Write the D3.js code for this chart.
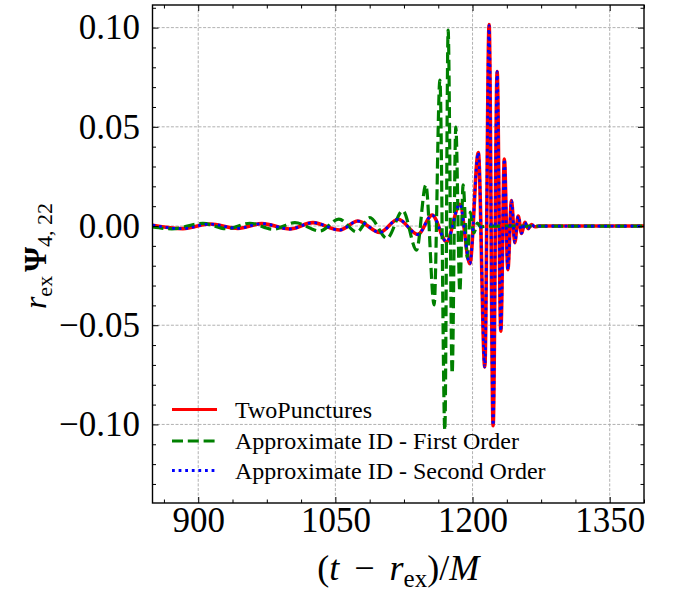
<!DOCTYPE html>
<html>
<head>
<meta charset="utf-8">
<script src="https://cdn.jsdelivr.net/npm/d3@7"></script>
<style>
  body { margin: 0; background: #fff; }
  text { font-family: "Liberation Serif", "Times New Roman", serif; fill: #000; }
</style>
</head>
<body>
<div id="chart"></div>
<script>
// Waveform extrema: time (t - r_ex)/M and r_ex Psi_4,22
const tRed = [850, 883.3, 912.8, 943.4, 969.6, 1000.3, 1025.4, 1054.9, 1074.6, 1098.6, 1118.7, 1140.2,
  1155.8, 1171.6, 1186.1, 1197.0, 1206.3, 1213.4, 1218.1, 1222.5, 1226.9, 1230.9, 1234.8, 1238.6,
  1242.6, 1246.2, 1249.9, 1253.6, 1257.2, 1260.8, 1264.5, 1268.1, 1273.6, 1387.5];
const vRed = [0.0004, -0.0013, 0.0010, -0.0012, 0.0012, -0.0015, 0.0017, -0.0020, 0.0025, -0.0032, 0.0034, -0.0042,
  0.0055, -0.0079, 0.0110, -0.0190, 0.0370, -0.0710, 0.1015, -0.1007, 0.0778, -0.0530, 0.0338, -0.0220,
  0.0128, -0.0084, 0.0050, -0.0037, 0.0019, -0.0013, 0.0008, -0.0004, 0, 0];

const tGreen = [850, 871.2, 905.1, 931.4, 956.5, 981.7, 1005.7, 1033.1, 1053.8, 1073.5, 1087.7, 1106.3,
  1123.8, 1138.8, 1148.9, 1158.0, 1164.3, 1169.7, 1173.3, 1177.7, 1181.7, 1186.1, 1189.7, 1194.3,
  1197.6, 1201.4, 1205.3, 1209.1, 1214.5, 1387.5];
const vGreen = [-0.0005, -0.0014, 0.0013, -0.0014, 0.0014, -0.0016, 0.0017, -0.0025, 0.0035, -0.0030, 0.0042, -0.0062,
  0.0077, -0.0121, 0.0207, -0.0398, 0.0736, -0.1029, 0.0988, -0.0743, 0.0498, -0.0330, 0.0207, -0.0160,
  0.0070, -0.0035, 0.0015, -0.0006, 0, 0];

const tBlue = [850, 883.3, 912.8, 943.4, 969.6, 1000.3, 1025.4, 1054.9, 1074.6, 1098.6, 1118.7, 1140.2,
  1155.8, 1171.6, 1186.1, 1197.0, 1206.3, 1213.4, 1218.1, 1222.5, 1226.9, 1230.9, 1234.8, 1238.6,
  1242.6, 1246.2, 1249.9, 1253.6, 1257.2, 1260.8, 1264.5, 1268.1, 1273.6, 1387.5];
const vBlue = [0.0004, -0.0013, 0.0010, -0.0012, 0.0012, -0.0015, 0.0017, -0.0020, 0.0025, -0.0032, 0.0034, -0.0042,
  0.0055, -0.0079, 0.0110, -0.0190, 0.0370, -0.0710, 0.1010, -0.1005, 0.0778, -0.0530, 0.0338, -0.0220,
  0.0128, -0.0084, 0.0050, -0.0037, 0.0019, -0.0013, 0.0008, -0.0004, 0, 0];

const seriesNames = ["TwoPunctures", "Approximate ID - First Order", "Approximate ID - Second Order"];

const xMajor = [900, 1050, 1200, 1350];
const xMinor = [862.5, 937.5, 975, 1012.5, 1087.5, 1125, 1162.5, 1237.5, 1275, 1312.5, 1387.5];
const yMajor = [-0.10, -0.05, 0.00, 0.05, 0.10];
const yMajorLabels = ["\u22120.10", "\u22120.05", "0.00", "0.05", "0.10"];
const yMinor = [-0.13, -0.12, -0.11, -0.09, -0.08, -0.07, -0.06, -0.04, -0.03, -0.02, -0.01,
  0.01, 0.02, 0.03, 0.04, 0.06, 0.07, 0.08, 0.09, 0.11];

const width = 676, height = 591;
const pLeft = 152.5, pRight = 644, pTop = 5, pBottom = 503;

const svg = d3.select("#chart").append("svg")
  .attr("width", width)
  .attr("height", height);

svg.append("rect").attr("width", width).attr("height", height).attr("fill", "#fff");

const x = d3.scaleLinear().domain([850, 1387.5]).range([pLeft, pRight]);
const y = d3.scaleLinear().domain([-0.1396, 0.1114]).range([pBottom, pTop]);

// grid
const grid = svg.append("g");
grid.selectAll(".gx").data(xMajor).enter().append("line")
  .attr("x1", d => x(d)).attr("x2", d => x(d))
  .attr("y1", pTop).attr("y2", pBottom);
grid.selectAll(".gy").data(yMajor).enter().append("line")
  .attr("x1", pLeft).attr("x2", pRight)
  .attr("y1", d => y(d)).attr("y2", d => y(d));
grid.selectAll("line")
  .attr("stroke", "#a8a8a8")
  .attr("stroke-width", 0.9)
  .attr("stroke-dasharray", "3,1.6");

// curves
svg.append("clipPath").attr("id", "clip")
  .append("rect").attr("x", pLeft).attr("y", pTop)
  .attr("width", pRight - pLeft).attr("height", pBottom - pTop);

const line = d3.line()
  .x(d => x(d[0]))
  .y(d => y(d[1]))
  .curve(d3.curveMonotoneX);

const plot = svg.append("g").attr("clip-path", "url(#clip)");
plot.append("path")
  .datum(d3.zip(tRed, vRed))
  .attr("d", line)
  .attr("fill", "none")
  .attr("stroke", "#ff0000")
  .attr("stroke-width", 3.6);
plot.append("path")
  .datum(d3.zip(tGreen, vGreen))
  .attr("d", line)
  .attr("fill", "none")
  .attr("stroke", "#008000")
  .attr("stroke-width", 3.2)
  .attr("stroke-dasharray", "11,4.8");
plot.append("path")
  .datum(d3.zip(tBlue, vBlue))
  .attr("d", line)
  .attr("fill", "none")
  .attr("stroke", "#0000ff")
  .attr("stroke-width", 2.8)
  .attr("stroke-dasharray", "2.8,3.8");

// axes, ticks pointing inward on all four sides
function styleAxis(g) {
  g.select(".domain").remove();
  g.selectAll(".tick line").attr("stroke", "#000").attr("stroke-width", 1);
  g.selectAll(".tick text").style("font-size", "35px").attr("fill", "#000");
}

svg.append("g").attr("transform", `translate(0,${pBottom})`)
  .call(d3.axisBottom(x).tickValues(xMajor).tickSize(-6).tickPadding(4).tickFormat(d3.format("d")))
  .call(styleAxis);
svg.append("g").attr("transform", `translate(0,${pBottom})`)
  .call(d3.axisBottom(x).tickValues(xMinor).tickSize(-3.5).tickFormat(""))
  .call(styleAxis);
svg.append("g").attr("transform", `translate(0,${pTop})`)
  .call(d3.axisTop(x).tickValues(xMajor).tickSize(-6).tickFormat(""))
  .call(styleAxis);
svg.append("g").attr("transform", `translate(0,${pTop})`)
  .call(d3.axisTop(x).tickValues(xMinor).tickSize(-3.5).tickFormat(""))
  .call(styleAxis);

svg.append("g").attr("transform", `translate(${pLeft},0)`)
  .call(d3.axisLeft(y).tickValues(yMajor).tickSize(-6).tickPadding(12.5)
    .tickFormat((d, i) => yMajorLabels[i]))
  .call(styleAxis);
svg.append("g").attr("transform", `translate(${pLeft},0)`)
  .call(d3.axisLeft(y).tickValues(yMinor).tickSize(-3.5).tickFormat(""))
  .call(styleAxis);
svg.append("g").attr("transform", `translate(${pRight},0)`)
  .call(d3.axisRight(y).tickValues(yMajor).tickSize(-6).tickFormat(""))
  .call(styleAxis);
svg.append("g").attr("transform", `translate(${pRight},0)`)
  .call(d3.axisRight(y).tickValues(yMinor).tickSize(-3.5).tickFormat(""))
  .call(styleAxis);

// frame
svg.append("rect")
  .attr("x", pLeft).attr("y", pTop)
  .attr("width", pRight - pLeft).attr("height", pBottom - pTop)
  .attr("fill", "none").attr("stroke", "#000").attr("stroke-width", 1.4);

// axis labels
const xl = svg.append("text")
  .attr("x", (pLeft + pRight) / 2).attr("y", 580)
  .attr("text-anchor", "middle")
  .style("font-size", "36px");
xl.append("tspan").text("(");
xl.append("tspan").style("font-style", "italic").text("t");
xl.append("tspan").attr("dx", 6).text(" \u2212 ");
xl.append("tspan").attr("dx", 6).style("font-style", "italic").text("r");
xl.append("tspan").attr("dy", 7).style("font-size", "25px").text("ex");
xl.append("tspan").attr("dy", -7).text(")/");
xl.append("tspan").style("font-style", "italic").text("M");

const yl = svg.append("text")
  .attr("transform", `translate(46,${(pTop + pBottom) / 2 + 2}) rotate(-90)`)
  .attr("text-anchor", "middle")
  .style("font-size", "32px");
yl.append("tspan").style("font-style", "italic").text("r");
yl.append("tspan").attr("dy", 6).style("font-size", "22px").text("ex");
yl.append("tspan").attr("dy", -6).attr("dx", 4).style("font-weight", "bold").text("\u03a8");
yl.append("tspan").attr("dy", 6).style("font-size", "22px").text("4, 22");

// legend
const legendStyles = [
  { color: "#ff0000", dash: null, w: 3 },
  { color: "#008000", dash: "11,4.8", w: 3 },
  { color: "#0000ff", dash: "2.8,3.8", w: 2.8 }
];
const legendRows = [409.5, 441, 470.5];
const legend = svg.append("g");
seriesNames.forEach((name, i) => {
  legend.append("line")
    .attr("x1", 172).attr("x2", 217)
    .attr("y1", legendRows[i]).attr("y2", legendRows[i])
    .attr("stroke", legendStyles[i].color)
    .attr("stroke-width", legendStyles[i].w)
    .attr("stroke-dasharray", legendStyles[i].dash);
  legend.append("text")
    .attr("x", 235).attr("y", legendRows[i] + 8)
    .style("font-size", "24px")
    .text(name);
});
</script>
</body>
</html>
